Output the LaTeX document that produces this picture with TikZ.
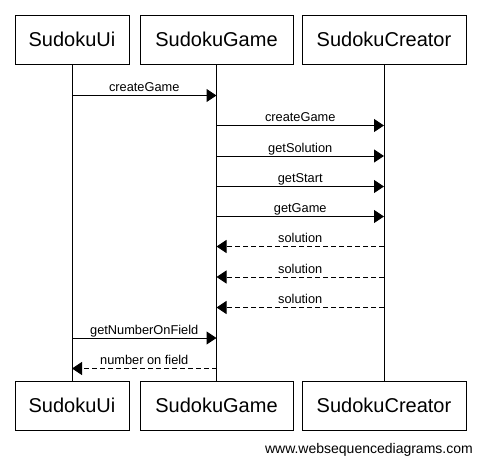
\documentclass[tikz,border=0pt]{standalone}
\usepackage{fontspec}
\setmainfont{Liberation Sans}
\usetikzlibrary{arrows.meta}

\tikzset{
  actor/.style={draw, line width=1pt, minimum height=49pt, inner sep=0pt,
    font=\fontsize{20}{22}\selectfont},
  lifeline/.style={line width=1pt},
  msg/.style={line width=1pt, -{Triangle[length=10pt,width=13pt]}},
  reply/.style={msg, dash pattern=on 5pt off 3pt},
  lbl/.style={midway, anchor=south, inner sep=0pt, text depth=0pt, yshift=3.5pt,
    font=\fontsize{12.8}{14}\selectfont}
}

\begin{document}
\begin{tikzpicture}[x=1pt, y=-1pt]
  \useasboundingbox (0,0) rectangle (481,464);

  % Top actors
  \node[actor, minimum width=114pt] (ui) at (72,39.5) {SudokuUi};
  \node[actor, minimum width=153pt] (game) at (216.5,39.5) {SudokuGame};
  \node[actor, minimum width=164pt] (creator) at (384,39.5) {SudokuCreator};

  % Bottom actors
  \node[actor, minimum width=114pt] (uiB) at (72,405.5) {SudokuUi};
  \node[actor, minimum width=153pt] (gameB) at (216.5,405.5) {SudokuGame};
  \node[actor, minimum width=164pt] (creatorB) at (384,405.5) {SudokuCreator};

  % Lifelines
  \draw[lifeline] (ui) -- (uiB);
  \draw[lifeline] (game) -- (gameB);
  \draw[lifeline] (creator) -- (creatorB);

  % Messages
  \draw[msg] (ui |- 0,95.5) -- (game |- 0,95.5) node[lbl] {createGame};
  \draw[msg] (game |- 0,125.5) -- (creator |- 0,125.5) node[lbl] {createGame};
  \draw[msg] (game |- 0,156) -- (creator |- 0,156) node[lbl] {getSolution};
  \draw[msg] (game |- 0,186.5) -- (creator |- 0,186.5) node[lbl] {getStart};
  \draw[msg] (game |- 0,216.5) -- (creator |- 0,216.5) node[lbl] {getGame};
  \draw[reply] (creator |- 0,246.5) -- (game |- 0,246.5) node[lbl] {solution};
  \draw[reply] (creator |- 0,277) -- (game |- 0,277) node[lbl] {solution};
  \draw[reply] (creator |- 0,307.5) -- (game |- 0,307.5) node[lbl] {solution};
  \draw[msg] (ui |- 0,338) -- (game |- 0,338) node[lbl] {getNumberOnField};
  \draw[reply] (game |- 0,368.5) -- (ui |- 0,368.5) node[lbl] {number on field};

  % Credit
  \node[anchor=east, inner sep=0pt, font=\fontsize{14}{16}\selectfont] (credit) at (473,450) {www.websequencediagrams.com};
\end{tikzpicture}
\end{document}
